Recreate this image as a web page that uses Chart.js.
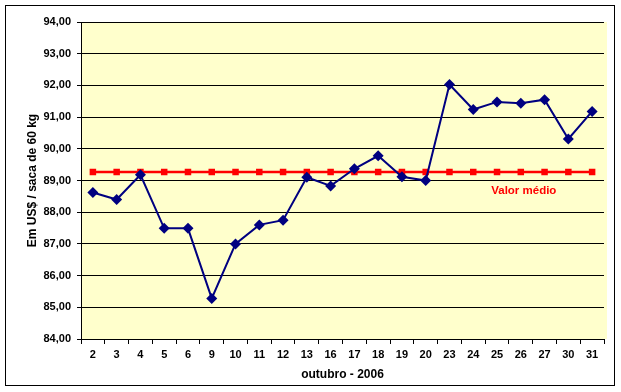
<!DOCTYPE html>
<html>
<head>
<meta charset="utf-8">
<script src="https://cdn.jsdelivr.net/npm/chart.js@4.4.0/dist/chart.umd.min.js"></script>
<style>
  html, body { margin: 0; padding: 0; background: #fff; }
  #wrap { width: 621px; height: 392px; }
</style>
</head>
<body>
<div id="wrap"><canvas id="grafico" width="621" height="392"></canvas></div>
<script>
// dias de outubro 2006 (pregões)
const dias = ['2', '3', '4', '5', '6', '9', '10', '11', '12', '13', '16', '17', '18', '19', '20', '23', '24', '25', '26', '27', '30', '31'];

// cotação em US$ / saca de 60 kg
const cotacao = [88.62, 88.40, 89.18, 87.49, 87.49, 85.28, 87.00, 87.60, 87.75, 89.10, 88.83, 89.37, 89.78, 89.12, 89.00, 92.03, 91.24, 91.48, 91.44, 91.55, 90.31, 91.18];

// valor médio do mês
const media = [89.27, 89.27, 89.27, 89.27, 89.27, 89.27, 89.27, 89.27, 89.27, 89.27, 89.27, 89.27, 89.27, 89.27, 89.27, 89.27, 89.27, 89.27, 89.27, 89.27, 89.27, 89.27];

const yMin = 84, yMax = 94, yPasso = 1;

const FONTE = 'Arial, "Liberation Sans", sans-serif';

// fundo amarelo da área do gráfico + moldura externa + rótulo "Valor médio"
const moldura = {
  id: 'moldura',
  beforeDraw(chart) {
    const { ctx, chartArea: a } = chart;
    ctx.save();
    ctx.fillStyle = '#ffffff';
    ctx.fillRect(0, 0, chart.width, chart.height);
    ctx.fillStyle = '#ffffcc';
    ctx.fillRect(a.left, a.top, a.right - a.left + 3, a.bottom - a.top);
    ctx.strokeStyle = '#000000';
    ctx.lineWidth = 1;
    ctx.strokeRect(5.5, 5.5, 609, 380);
    ctx.restore();
  },
  afterDatasetsDraw(chart) {
    const { ctx, scales } = chart;
    const x = scales.x.getPixelForValue(18) + 3;
    const y = scales.y.getPixelForValue(88.68);
    ctx.save();
    ctx.fillStyle = '#ff0000';
    ctx.font = 'bold 11.5px ' + FONTE;
    ctx.textAlign = 'center';
    ctx.textBaseline = 'middle';
    ctx.fillText('Valor médio', x, y);
    ctx.restore();
  }
};

new Chart(document.getElementById('grafico'), {
  type: 'line',
  data: {
    labels: dias,
    datasets: [
      {
        label: 'Valor médio',
        data: media,
        borderColor: '#ff0000',
        backgroundColor: '#ff0000',
        borderWidth: 2.5,
        pointStyle: 'rect',
        pointRadius: 4.6,
        pointBorderWidth: 0,
        tension: 0,
        order: 2
      },
      {
        label: 'Cotação',
        data: cotacao,
        borderColor: '#000080',
        backgroundColor: '#000080',
        borderWidth: 2,
        pointStyle: 'rectRot',
        pointRadius: 5.5,
        pointBorderWidth: 0,
        tension: 0,
        order: 1
      }
    ]
  },
  options: {
    responsive: false,
    animation: false,
    events: [],
    layout: { padding: { left: 25, right: 17, top: 22, bottom: 10.5 } },
    plugins: {
      legend: { display: false },
      tooltip: { enabled: false }
    },
    scales: {
      x: {
        offset: true,
        grid: {
          offset: true,
          drawOnChartArea: false,
          color: '#000000',
          tickLength: 5
        },
        border: { color: '#000000', width: 1 },
        ticks: {
          color: '#000000',
          font: { family: FONTE, size: 11, weight: 'bold' },
          padding: 4,
          maxRotation: 0,
          autoSkip: false
        },
        title: {
          display: true,
          text: 'outubro - 2006',
          color: '#000000',
          font: { family: FONTE, size: 12, weight: 'bold' },
          padding: 0
        },
        afterFit(s) { s.height = 42.5; }
      },
      y: {
        min: yMin,
        max: yMax,
        grid: {
          color: '#000000',
          lineWidth: 1,
          tickLength: 4
        },
        border: { color: '#000000', width: 1 },
        ticks: {
          stepSize: yPasso,
          color: '#000000',
          font: { family: FONTE, size: 11, weight: 'bold' },
          padding: 6,
          callback: v => v.toFixed(2).replace('.', ',')
        },
        title: {
          display: true,
          text: 'Em US$ / saca de 60 kg',
          color: '#000000',
          font: { family: FONTE, size: 12, weight: 'bold' },
          padding: 0
        },
        afterFit(s) { s.width = 56; }
      }
    }
  },
  plugins: [moldura]
});
</script>
</body>
</html>
